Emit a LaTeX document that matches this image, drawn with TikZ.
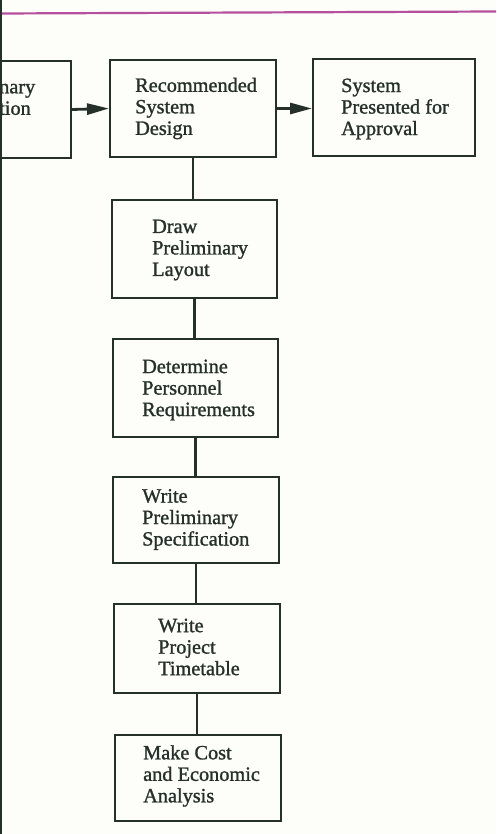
\documentclass[tikz,border=0pt]{standalone}
\usepackage{fontspec}
\setmainfont{Liberation Serif}
\newfontfamily\diafont[FakeBold=1.2]{Liberation Serif}
\usetikzlibrary{arrows.meta}
\definecolor{ink}{HTML}{26302A}
\definecolor{paper}{HTML}{FDFDF9}
\definecolor{rulecol}{HTML}{B4509E}
\begin{document}
\begin{tikzpicture}[x=1pt,y=-1pt,
  box/.style={draw=ink, line width=2pt, inner sep=0pt},
  txt/.style={text=ink, font=\diafont\fontsize{20.3}{21.5}\selectfont, align=left, inner sep=0pt, anchor=west},
  conn/.style={draw=ink, line width=2.8pt},
  arr/.style={conn, -{Triangle[length=22pt,width=11pt]}}]
\useasboundingbox (0,0) rectangle (496,834);
\fill[paper] (0,0) rectangle (496,834);
% top rule and left edge
\draw[rulecol, line width=2.2pt] (0,13.5) -- (496,11.5);
\draw[ink, line width=1.8pt] (1,0) -- (1,834);
% boxes
\node[box, minimum width=90pt, minimum height=97pt] (L) at (26,109.5) {};
\node[box, minimum width=166pt, minimum height=97pt] (rec) at (193,108.5) {};
\node[box, minimum width=162pt, minimum height=97pt] (sys) at (394,107.5) {};
\node[box, minimum width=165pt, minimum height=98pt] (lay) at (194.5,249) {};
\node[box, minimum width=165pt, minimum height=98pt] (det) at (195.5,388) {};
\node[box, minimum width=166pt, minimum height=86pt] (spec) at (196,520) {};
\node[box, minimum width=166pt, minimum height=89pt] (time) at (197,648.5) {};
\node[box, minimum width=166pt, minimum height=86pt] (cost) at (198,778) {};
% texts
\node[txt] (Lt) at (-1,99.4) {nary\\tion};
\node[txt] (rect) at (135,108.5) {Recommended\\System\\Design};
\node[txt] (syst) at (341,109) {System\\Presented for\\Approval};
\node[txt] (layt) at (152,250) {Draw\\Preliminary\\Layout};
\node[txt] (dett) at (142,390) {Determine\\Personnel\\Requirements};
\node[txt] (spect) at (142,519.5) {Write\\Preliminary\\Specification};
\node[txt] (timet) at (158,647) {Write\\Project\\Timetable};
\node[txt] (costt) at (143,776) {Make Cost\\and Economic\\Analysis};
% connectors
\draw[arr] (L.east) -- (rec.west);
\draw[arr] (rec.east) -- (sys.west |- rec.east);
\draw[conn] (rec.south) -- (rec.south |- lay.north);
\draw[conn] (lay.south) -- (lay.south |- det.north);
\draw[conn] (det.south) -- (det.south |- spec.north);
\draw[conn] (spec.south) -- (spec.south |- time.north);
\draw[conn] (time.south) -- (time.south |- cost.north);
\end{tikzpicture}
\end{document}
